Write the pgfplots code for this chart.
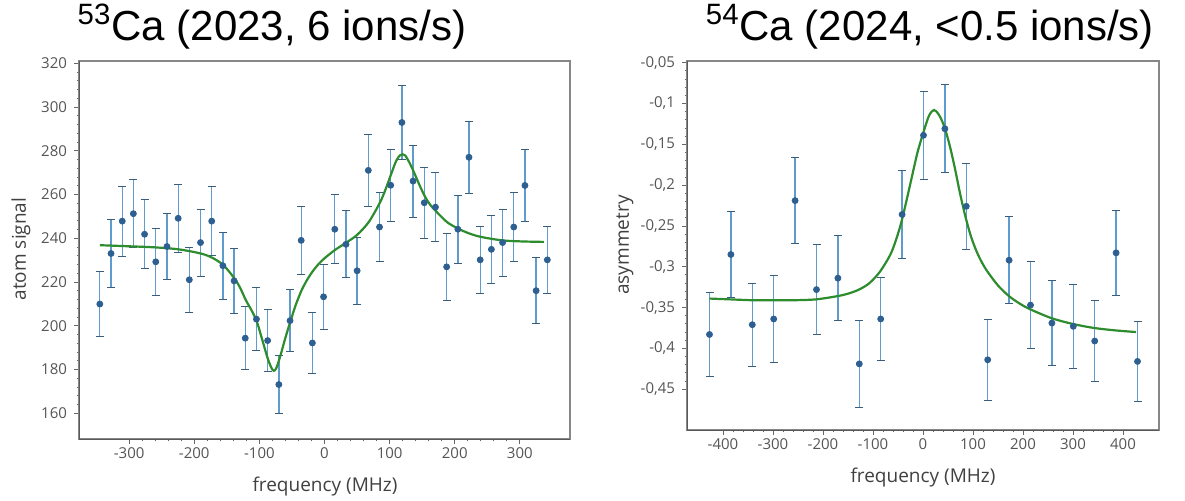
\documentclass[border=0pt]{standalone}
\usepackage{fontspec}
\setmainfont{Open Sans}
\newfontfamily\titlefont{Liberation Sans}
\usepackage{pgfplots}
\pgfplotsset{compat=1.18}
\usepackage{pgfplotstable}

\definecolor{ptblue}{RGB}{45,95,145}
\definecolor{barblue}{RGB}{95,155,205}
\definecolor{fitgreen}{RGB}{45,140,45}
\definecolor{spine}{RGB}{135,135,135}
\definecolor{ticktxt}{RGB}{85,85,85}

% 53Ca scan: frequency, atom signal, error
\pgfplotstableread{
x y e
-345.0 209.9 15.0
-327.8 233.0 15.4
-310.6 247.8 16.0
-293.5 251.2 15.6
-276.3 241.8 15.7
-259.1 229.2 15.2
-241.9 236.2 15.2
-224.7 249.1 15.6
-207.6 221.0 14.8
-190.4 238.0 15.3
-173.2 247.8 15.8
-156.0 227.4 15.2
-138.8 220.5 14.7
-121.7 194.3 14.3
-104.5 203.0 14.3
-87.3 193.2 14.3
-70.1 173.1 13.3
-52.9 202.3 14.3
-35.8 239.0 15.6
-18.6 192.1 13.9
-1.4 213.2 14.8
15.8 244.1 15.7
33.0 237.2 15.3
50.1 225.1 15.2
67.3 271.0 16.5
84.5 245.1 15.7
101.7 264.2 16.5
118.9 292.9 17.0
136.0 266.1 16.5
153.2 256.2 16.1
170.4 254.2 15.9
187.6 226.9 15.2
204.8 244.1 15.6
221.9 277.0 16.5
239.1 230.1 15.3
256.3 234.9 15.5
273.5 238.0 15.3
290.7 245.1 15.7
307.8 264.1 16.5
325.0 216.0 15.0
342.2 230.1 15.3
}\leftdata

% fitted line shape
\pgfplotstableread{
x y
-345 236.8
-300 236.3
-260 235.8
-224 234.9
-190 233.0
-172 231.0
-155 227.6
-138 221.5
-129 217.0
-121 211.8
-112 207.0
-104 202.0
-96 194.0
-88 185.8
-82 181.0
-78 179.4
-74 180.6
-68 186.0
-60 194.5
-52 202.3
-44 209.6
-35 216.3
-26 221.3
-18 224.9
-9 228.2
0 230.8
16 234.6
33 237.9
50 241.5
68 247.4
85 256.2
94 262.5
102 269.0
110 275.3
116 277.9
120 278.4
124 277.8
130 274.8
137 270.4
146 264.2
154 259.2
162 255.4
171 252.4
188 247.4
205 244.4
222 242.2
240 240.6
273 239.0
305 238.5
337 238.3
}\leftfit

% 54Ca scan: frequency, asymmetry, error
\pgfplotstableread{
x y e
-427.0 -0.383 0.052
-384.2 -0.285 0.053
-341.4 -0.371 0.051
-298.6 -0.364 0.053
-255.8 -0.219 0.053
-213.0 -0.328 0.055
-170.2 -0.314 0.052
-127.4 -0.419 0.053
-84.6 -0.364 0.051
-41.8 -0.236 0.054
1.0 -0.139 0.054
43.8 -0.131 0.054
86.6 -0.226 0.053
129.4 -0.414 0.050
172.2 -0.292 0.053
215.0 -0.347 0.053
257.8 -0.369 0.052
300.6 -0.373 0.051
343.4 -0.391 0.050
386.2 -0.283 0.052
429.0 -0.416 0.049
}\rightdata

\pgfplotstableread{
x y
-427 -0.339
-385 -0.340
-343 -0.341
-299 -0.341
-256 -0.341
-214 -0.340
-171 -0.336
-150 -0.333
-128 -0.328
-107 -0.320
-86 -0.306
-66 -0.286
-55 -0.269
-44 -0.247
-33 -0.219
-23 -0.192
-11 -0.160
1 -0.135
12 -0.115
22 -0.108
32 -0.114
43 -0.129
54 -0.153
64 -0.180
74 -0.210
85 -0.239
96 -0.263
107 -0.281
118 -0.295
129 -0.306
150 -0.323
172 -0.336
193 -0.345
214 -0.352
257 -0.363
299 -0.370
342 -0.375
385 -0.378
426 -0.380
}\rightfit

\pgfplotsset{
  panel/.style={
    scale only axis, anchor=south west,
    tick pos=left, tick align=outside,
    major tick length=2.5pt, minor tick length=1.2pt,
    every tick/.style={black!60, line width=0.4pt},
    minor x tick num=4, minor y tick num=4,
    axis line style={spine, line width=1.1pt},
    ticklabel style={font=\fontsize{7.5}{8}\selectfont, text=ticktxt},
    xticklabel style={yshift=1.5pt},
    /pgf/number format/assume math mode=true,
    scaled ticks=false,
  },
  datapts/.style={
    only marks, mark=*, mark size=1.5pt, color=ptblue,
    mark options={fill=ptblue, draw=ptblue},
    error bars/.cd, y dir=both, y explicit,
    error bar style={barblue, line width=0.65pt},
    error mark options={rotate=90, mark size=2pt, draw=barblue!60!black, line width=0.45pt},
  },
  fitline/.style={fitgreen, line width=1.1pt, smooth, tension=0.5, no marks},
}

\begin{document}
\begin{tikzpicture}
\useasboundingbox (0pt,0pt) rectangle (592.5pt,250pt);

\begin{axis}[panel, name=L, at={(39.5pt,30.5pt)}, width=245.5pt, height=189pt,
  xmin=-377, xmax=377, ymin=148.2, ymax=321,
  xtick={-300,-200,...,300}, ytick={160,180,...,320},
]
\addplot[datapts] table[x=x, y=y, y error=e] {\leftdata};
\addplot[fitline] table[x=x, y=y] {\leftfit};
\end{axis}
\draw[black!65, line width=0.5pt] (L.north west) -- (L.south west) -- (L.south east);

\begin{axis}[panel, name=R, at={(343.5pt,35pt)}, width=236pt, height=184.5pt,
  xmin=-472, xmax=472, ymin=-0.5, ymax=-0.048,
  xtick={-400,-300,...,400},
  ytick={-0.45,-0.4,-0.35,-0.3,-0.25,-0.2,-0.15,-0.1,-0.05},
  yticklabel style={/pgf/number format/.cd, fixed, precision=2, use comma},
]
\addplot[datapts] table[x=x, y=y, y error=e] {\rightdata};
\addplot[fitline] table[x=x, y=y] {\rightfit};
\end{axis}
\draw[black!65, line width=0.5pt] (R.north west) -- (R.south west) -- (R.south east);

% titles and axis labels
\node[font=\titlefont\fontsize{21}{24}\selectfont, anchor=base] at (136pt,230pt) {\textsuperscript{53}Ca (2023, 6 ions/s)};
\node[font=\titlefont\fontsize{21}{24}\selectfont, anchor=base] at (465pt,230pt) {\textsuperscript{54}Ca (2024, <0.5 ions/s)};
\node[font=\fontsize{9.5}{11}\selectfont, text=black!75, rotate=90] at (10.5pt,125.5pt) {atom signal};
\node[font=\fontsize{9.5}{11}\selectfont, text=black!75, rotate=90] at (312.5pt,127.5pt) {asymmetry};
\node[font=\fontsize{9.5}{11}\selectfont, text=black!75] at (162.5pt,6.5pt) {frequency (MHz)};
\node[font=\fontsize{9.5}{11}\selectfont, text=black!75] at (461.5pt,11pt) {frequency (MHz)};
\end{tikzpicture}
\end{document}
